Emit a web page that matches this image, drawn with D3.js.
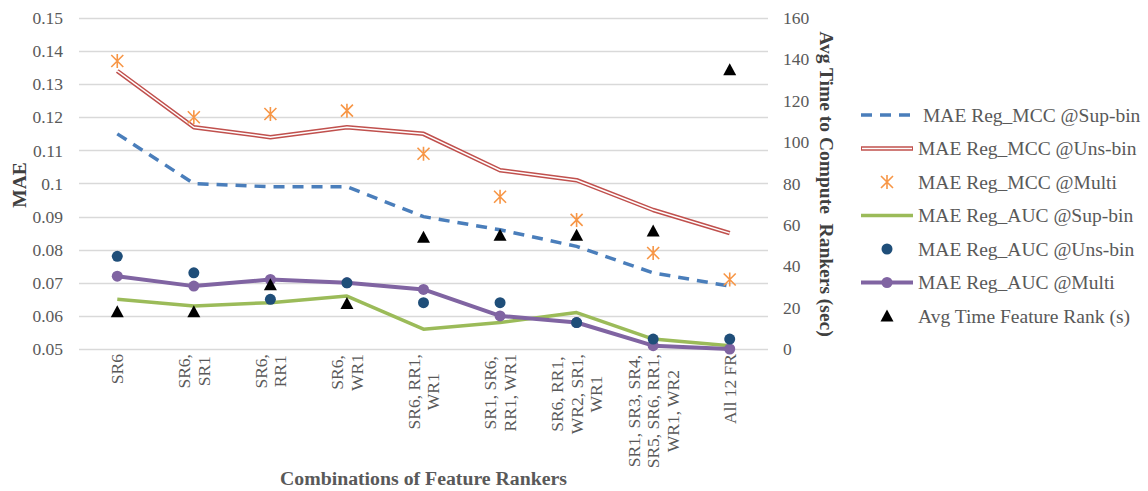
<!DOCTYPE html>
<html><head><meta charset="utf-8">
<script src="https://cdn.jsdelivr.net/npm/d3@7"></script>
<style>body{margin:0;background:#fff}svg{display:block}</style>
</head><body><svg id="c" width="1148" height="491"></svg>
<script>
const categories = [["SR6"],["SR6,","SR1"],["SR6,","RR1"],["SR6,","WR1"],["SR6, RR1,","WR1"],["SR1, SR6,","RR1, WR1"],["SR6, RR1,","WR2, SR1,","WR1"],["SR1, SR3, SR4,","SR5, SR6, RR1,","WR1, WR2"],["All 12 FR"]];
const mccSup  = [0.115,0.100,0.099,0.099,0.090,0.086,0.081,0.073,0.069];
const mccUns  = [0.134,0.117,0.114,0.117,0.115,0.104,0.101,0.092,0.085];
const mccMulti= [0.137,0.120,0.121,0.122,0.109,0.096,0.089,0.079,0.071];
const aucSup  = [0.065,0.063,0.064,0.066,0.056,0.058,0.061,0.053,0.051];
const aucUns  = [0.078,0.073,0.065,0.070,0.064,0.064,0.058,0.053,0.053];
const aucMulti= [0.072,0.069,0.071,0.070,0.068,0.060,0.058,0.051,0.050];
const avgTime = [18,18,31,22,54,55,55,57,135];
const leftTicks = [0.05,0.06,0.07,0.08,0.09,0.10,0.11,0.12,0.13,0.14,0.15];
const rightTicks = [0,20,40,60,80,100,120,140,160];
const legendLabels = ["MAE Reg_MCC @Sup-bin","MAE Reg_MCC @Uns-bin","MAE Reg_MCC @Multi","MAE Reg_AUC @Sup-bin","MAE Reg_AUC @Uns-bin","MAE Reg_AUC @Multi","Avg Time Feature Rank (s)"];

const FF = "'Liberation Serif'";
const svg = d3.select("#c");
const L=79,R=768,T=18,B=349;
const idx = categories.map((d,i)=>i);
const x = d3.scalePoint().domain(idx).range([L,R]).padding(0.5);
const y = d3.scaleLinear().domain([0.05,0.15]).range([B,T]);
const y2 = d3.scaleLinear().domain([0,160]).range([B,T]);
const gray="#595959";
const C={blue:"#4A7EBB",red:"#C0504D",orange:"#F79646",green:"#9BBB59",navy:"#1F4E79",purple:"#8064A2"};

// grid
svg.append("g").selectAll("line").data(leftTicks).join("line")
  .attr("x1",L).attr("x2",R).attr("y1",d=>Math.round(y(d))+0.5).attr("y2",d=>Math.round(y(d))+0.5)
  .attr("stroke","#d9d9d9").attr("stroke-width",1.3);

// left axis
const ax = svg.append("g").attr("transform",`translate(${L},0)`)
  .call(d3.axisLeft(y).tickValues(leftTicks).tickFormat(d=>+d.toFixed(2)+"").tickSize(0).tickPadding(16));
ax.select(".domain").remove();
ax.attr("font-family",null).attr("font-size",null);
ax.selectAll("text").style("font-size","17.5px").attr("fill",gray).style("font-family",FF);
// right axis
const ax2 = svg.append("g").attr("transform",`translate(${R},0)`)
  .call(d3.axisRight(y2).tickValues(rightTicks).tickSize(0).tickPadding(15));
ax2.select(".domain").remove();
ax2.attr("font-family",null).attr("font-size",null);
ax2.selectAll("text").style("font-size","17.5px").attr("fill",gray).style("font-family",FF);

// x labels
categories.forEach((lines,i)=>{
  const t = svg.append("text").style("font-size","17.5px").style("font-family",FF).attr("fill",gray).attr("text-anchor","middle");
  lines.forEach((ln,j)=>{
    t.append("tspan").attr("x",0).attr("dy",j===0?((-(lines.length-1)/2)*19.5+6):19.5).text(ln);
  });
  let mw=0; t.selectAll("tspan").each(function(){mw=Math.max(mw,this.getComputedTextLength());});
  t.attr("transform",`translate(${x(i)},${354+mw/2}) rotate(-90)`);
});

// titles
svg.append("text").attr("transform","translate(19,185) rotate(-90)").attr("text-anchor","middle")
  .attr("dominant-baseline","central").style("font-family",FF).style("font-weight","bold").style("font-size","19.5px").attr("fill","#404040").text("MAE");
svg.append("text").attr("transform","translate(826,184) rotate(90)").attr("text-anchor","middle")
  .attr("dominant-baseline","central").style("font-family",FF).style("font-weight","bold").style("font-size","19.5px").style("white-space","pre").attr("fill","#404040").text("Avg Time to Compute  Rankers (sec)");
svg.append("text").attr("x",(L+R)/2).attr("y",485).attr("text-anchor","middle")
  .style("font-family",FF).style("font-weight","bold").style("font-size","19.8px").attr("fill","#595959").text("Combinations of Feature Rankers");

const line = d3.line().x((d,i)=>x(i)).y(d=>y(d));
// green
svg.append("path").attr("d",line(aucSup)).attr("fill","none").attr("stroke",C.green).attr("stroke-width",3.5).attr("stroke-linejoin","round");
// purple
svg.append("path").attr("d",line(aucMulti)).attr("fill","none").attr("stroke",C.purple).attr("stroke-width",4).attr("stroke-linejoin","round");
svg.append("g").selectAll("circle").data(aucMulti).join("circle").attr("cx",(d,i)=>x(i)).attr("cy",d=>y(d)).attr("r",5.5).attr("fill",C.purple);
// navy dots
svg.append("g").selectAll("circle").data(aucUns).join("circle").attr("cx",(d,i)=>x(i)).attr("cy",d=>y(d)).attr("r",5.5).attr("fill",C.navy);
// blue dashed
svg.append("path").attr("d",line(mccSup)).attr("fill","none").attr("stroke",C.blue).attr("stroke-width",3.5).attr("stroke-dasharray","11,8");
// red double
svg.append("path").attr("d",line(mccUns)).attr("fill","none").attr("stroke",C.red).attr("stroke-width",4.5).attr("stroke-linejoin","round");
svg.append("path").attr("d",line(mccUns)).attr("fill","none").attr("stroke","#fff").attr("stroke-width",1.5).attr("stroke-linejoin","round");
// asterisks
const star = "M0,-7L0,7M-6,-6L6,6M-6,6L6,-6";
svg.append("g").selectAll("path").data(mccMulti).join("path").attr("transform",(d,i)=>`translate(${x(i)},${y(d)})`)
  .attr("d",star).attr("stroke",C.orange).attr("stroke-width",1.6).attr("fill","none");
// triangles
const tri = "M0,-6.5L6.5,5.5L-6.5,5.5Z";
svg.append("g").selectAll("path").data(avgTime).join("path").attr("transform",(d,i)=>`translate(${x(i)},${y2(d)})`)
  .attr("d",tri).attr("fill","#000");

// legend
const lg = svg.append("g");
const ly = d3.scalePoint().domain(d3.range(7)).range([115,316]);
const lx0=861,lx1=913,lxm=887;
legendLabels.forEach((lab,i)=>{
  const yy=ly(i);
  if(i===0) lg.append("line").attr("x1",lx0).attr("x2",lx1).attr("y1",yy).attr("y2",yy).attr("stroke",C.blue).attr("stroke-width",3.5).attr("stroke-dasharray","11,8");
  if(i===1){ lg.append("line").attr("x1",lx0).attr("x2",lx1).attr("y1",yy).attr("y2",yy).attr("stroke",C.red).attr("stroke-width",4.5);
    lg.append("line").attr("x1",lx0+1).attr("x2",lx1-1).attr("y1",yy).attr("y2",yy).attr("stroke","#fff").attr("stroke-width",1.5);}
  if(i===2) lg.append("path").attr("transform",`translate(${lxm},${yy})`).attr("d",star).attr("stroke",C.orange).attr("stroke-width",1.6).attr("fill","none");
  if(i===3) lg.append("line").attr("x1",lx0).attr("x2",lx1).attr("y1",yy).attr("y2",yy).attr("stroke",C.green).attr("stroke-width",3.5);
  if(i===4) lg.append("circle").attr("cx",lxm).attr("cy",yy).attr("r",5.5).attr("fill",C.navy);
  if(i===5){ lg.append("line").attr("x1",lx0).attr("x2",lx1).attr("y1",yy).attr("y2",yy).attr("stroke",C.purple).attr("stroke-width",4);
    lg.append("circle").attr("cx",lxm).attr("cy",yy).attr("r",5.5).attr("fill",C.purple);}
  if(i===6) lg.append("path").attr("transform",`translate(${lxm},${yy})`).attr("d",tri).attr("fill","#000");
  lg.append("text").attr("x",i===0?923:918).attr("y",yy).attr("dominant-baseline","central").style("font-family",FF).style("font-size","19.5px").attr("fill",gray).text(lab);
});
</script></body></html>
